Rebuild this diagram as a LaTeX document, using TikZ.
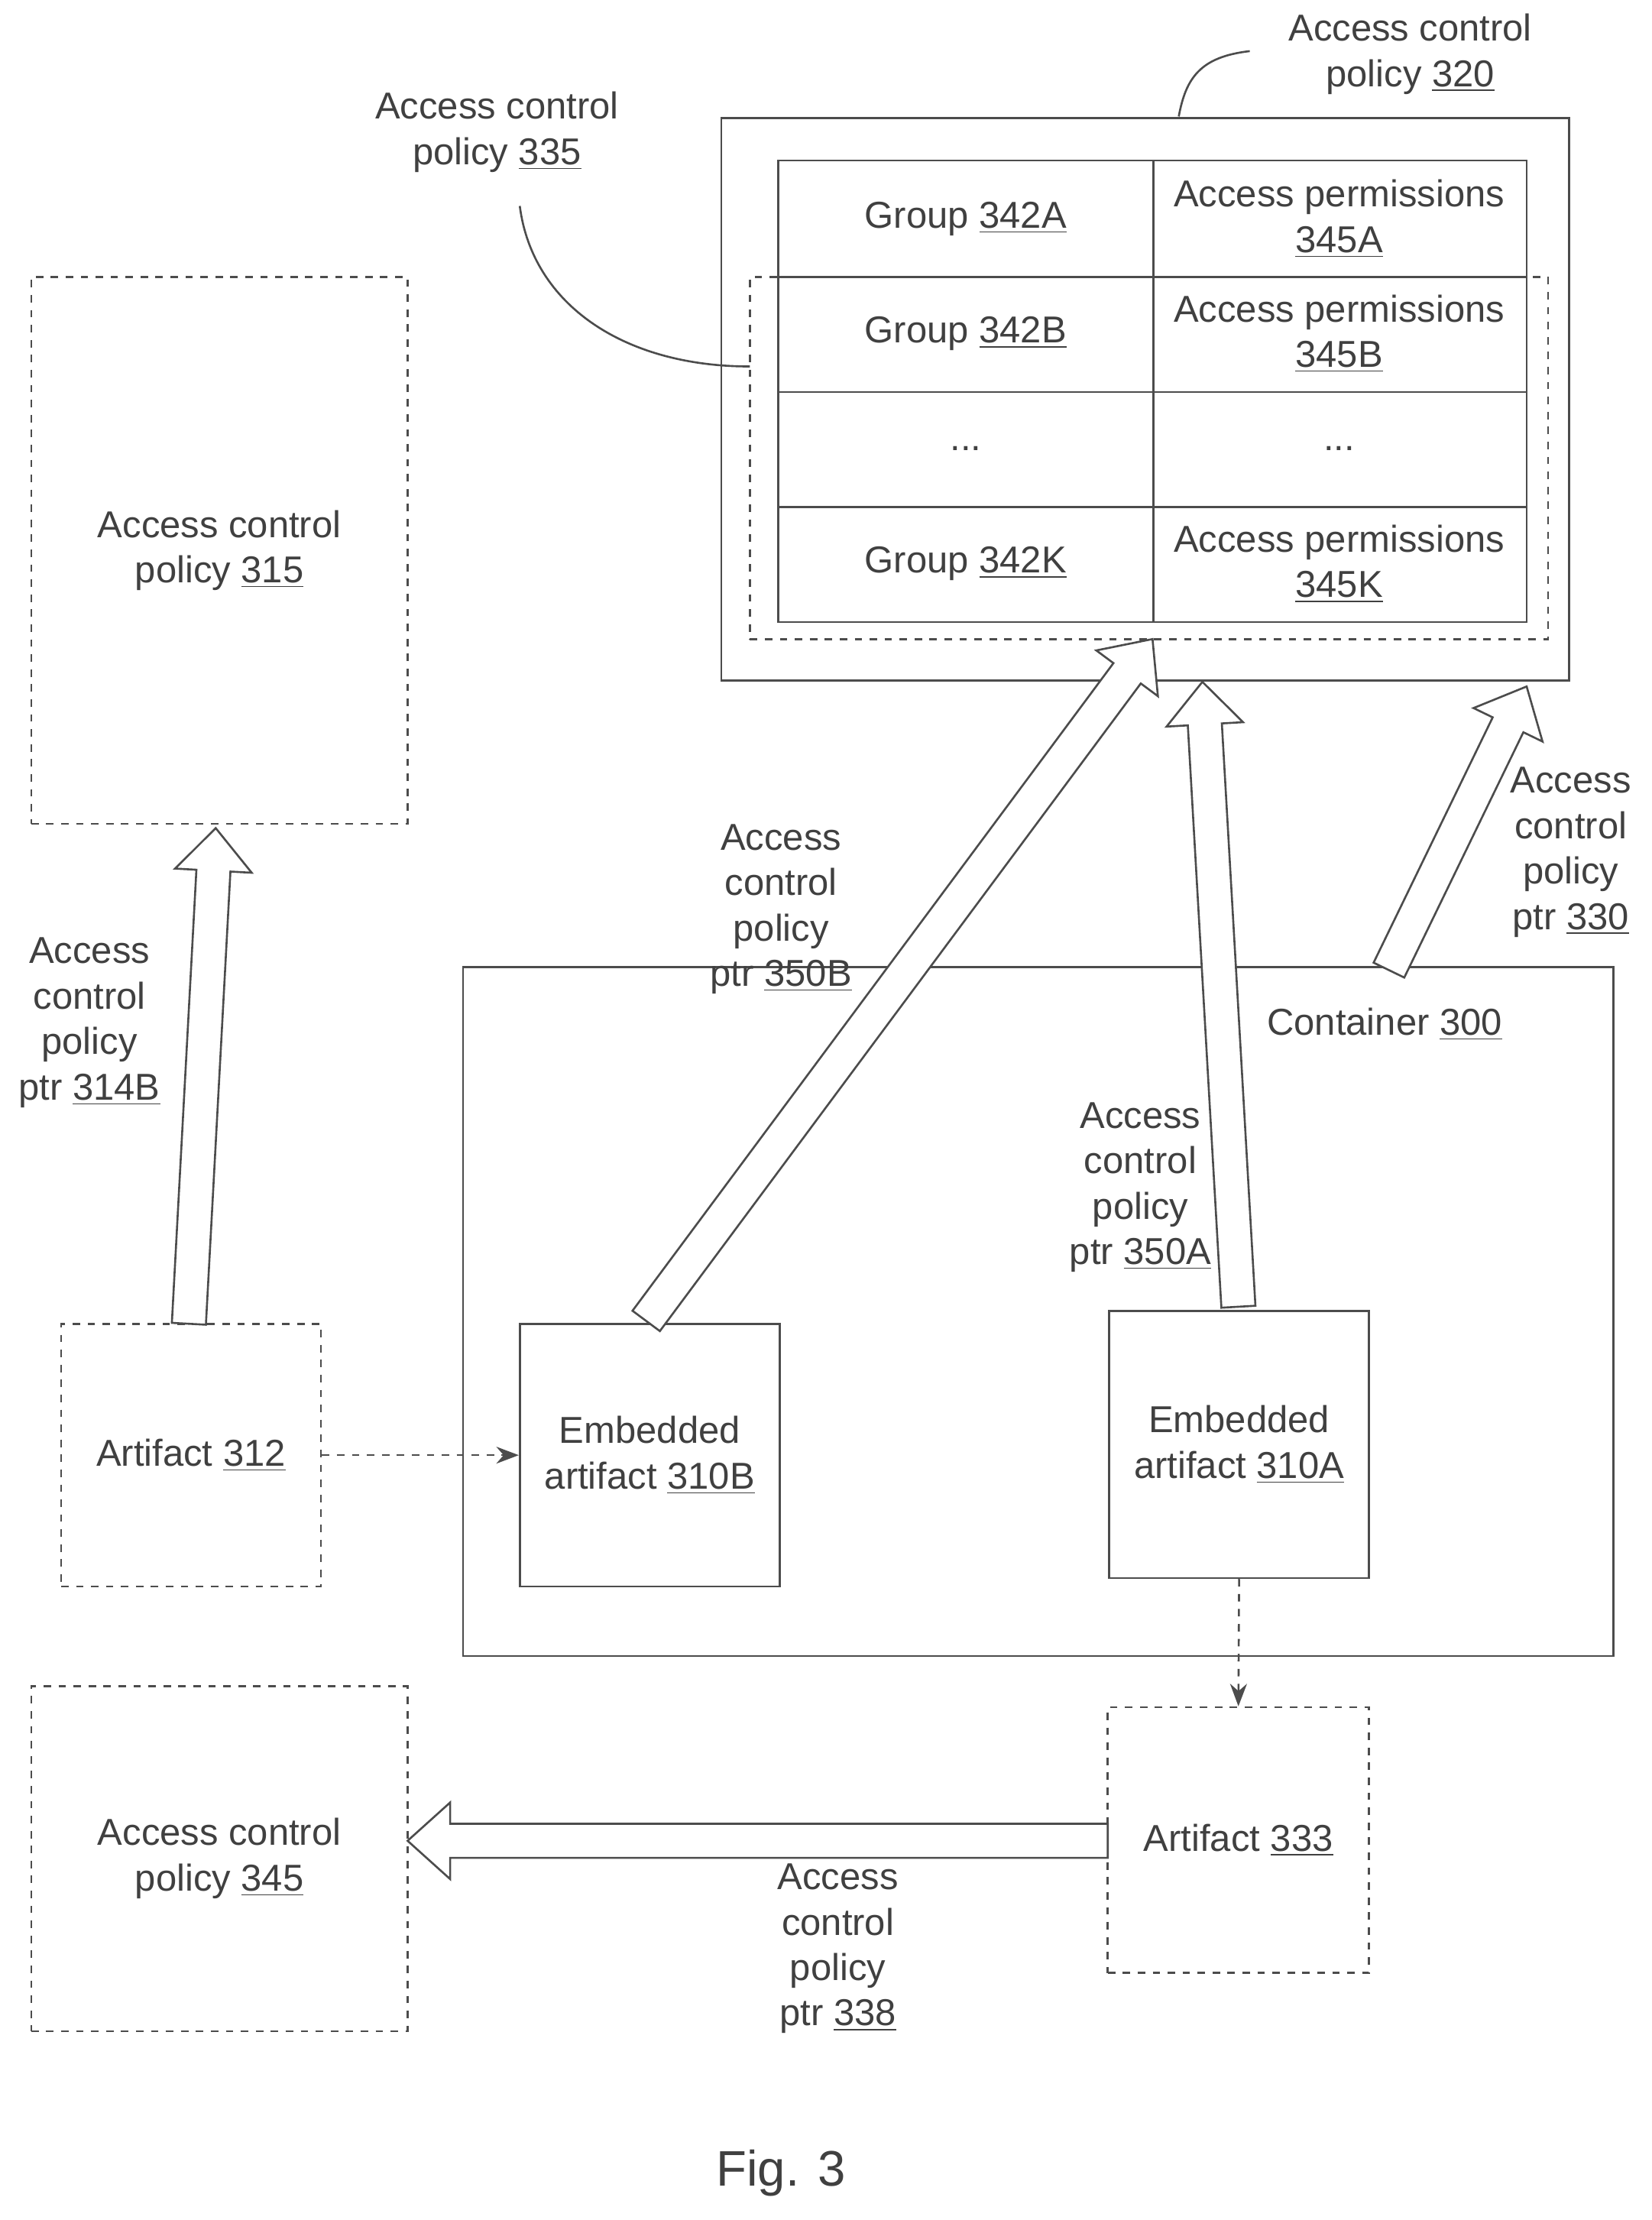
\documentclass[tikz,border=0pt]{standalone}
\usepackage{fontspec}
\setmainfont{Liberation Sans}
\usetikzlibrary{arrows.meta}
\begin{document}
\begin{tikzpicture}[x=0.02cm,y=-0.02cm,
  every node/.style={font=\fontsize{15}{18.2}\selectfont,text=black!75,align=center},
  ln/.style={draw=black!70,line width=0.8pt},
  dbox/.style={ln,dashed},
  blk/.style={ln,fill=white},
  darr/.style={ln,dashed,-{Stealth[length=9pt]}}]
\useasboundingbox (0,0) rectangle (1163,1563);
% ACP 320
\node[ln,draw,minimum width=597*0.02cm,minimum height=396*0.02cm] (p320) at (806.5,281) {};
\node[dbox,minimum width=562*0.02cm,minimum height=255*0.02cm] (p335) at (809,322.5) {};
\draw[ln] (548,113) rectangle (1075,438);
\foreach \y in {195,276,357} \draw[ln] (548,\y) -- (1075,\y);
\draw[ln] (812,113) -- (812,438);
\node (g1) at (680,154) {Group \underline{342A}};
\node (a1) at (943,154) {Access permissions\\\underline{345A}};
\node (g2) at (680,235) {Group \underline{342B}};
\node (a2) at (943,235) {Access permissions\\\underline{345B}};
\node (g3) at (680,316) {...};
\node (a3) at (943,316) {...};
\node (g4) at (680,397) {Group \underline{342K}};
\node (a4) at (943,397) {Access permissions\\\underline{345K}};
\node (l320) at (993,38) {Access control\\policy \underline{320}};
\draw[ln] (830,82) .. controls (835,55) and (845,40) .. (880,36);
\node (l335) at (350,93) {Access control\\policy \underline{335}};
\draw[ln] (366,145) .. controls (375,215) and (440,258) .. (528,258);
% left boxes
\node[dbox,minimum width=265*0.02cm,minimum height=385*0.02cm] (p315) at (154.5,387.5) {Access control\\policy \underline{315}};
\node[dbox,minimum width=183*0.02cm,minimum height=185*0.02cm] (a312) at (134.5,1024.5) {Artifact \underline{312}};
\node[dbox,minimum width=265*0.02cm,minimum height=243*0.02cm] (p345) at (154.5,1308.5) {Access control\\policy \underline{345}};
% container
\node[ln,draw,minimum width=810*0.02cm,minimum height=485*0.02cm] (c300) at (731,923.5) {};
\node (lc) at (975,721) {Container \underline{300}};
\node[ln,draw,minimum width=183*0.02cm,minimum height=185*0.02cm] (e310b) at (457.5,1024.5) {Embedded\\artifact \underline{310B}};
\node[ln,draw,minimum width=183*0.02cm,minimum height=188*0.02cm] (e310a) at (872.5,1017) {Embedded\\artifact \underline{310A}};
\node[dbox,minimum width=184*0.02cm,minimum height=187*0.02cm] (a333) at (872,1295.5) {Artifact \underline{333}};
\draw[darr] (a312.east) -- (e310b.west);
\draw[darr] (e310a.south) -- (a333.north);
% block arrows
\newcommand\blkarrow[3]{%
 \begin{scope}[shift={#1},rotate=#2]
 \draw[blk] (0,-12)--({#3-30},-12)--({#3-30},-27)--(#3,0)--({#3-30},27)--({#3-30},12)--(0,12)--cycle;
 \end{scope}}
\coordinate (b314) at (133,932);
\coordinate (b350b) at (455,930);
\coordinate (b350a) at (872,920);
\coordinate (b330) at (978,683);
\coordinate (b338) at (780,1296);
\blkarrow{(b314)}{86.9}{349.5}
\blkarrow{(b350b)}{53.4}{598}
\blkarrow{(b350a)}{93.3}{440.7}
\blkarrow{(b330)}{64.1}{222}
\blkarrow{(b338)}{180}{493}
\node (l314) at (63,720) {Access\\control\\policy\\ptr \underline{314B}};
\node (l350b) at (550,640) {Access\\control\\policy\\ptr \underline{350B}};
\node (l350a) at (803,836) {Access\\control\\policy\\ptr \underline{350A}};
\node (l330) at (1106,600) {Access\\control\\policy\\ptr \underline{330}};
\node (l338) at (590,1372) {Access\\control\\policy\\ptr \underline{338}};
\node[font=\fontsize{20}{22}\selectfont] (fig) at (550,1530) {Fig. 3};
\end{tikzpicture}
\end{document}
